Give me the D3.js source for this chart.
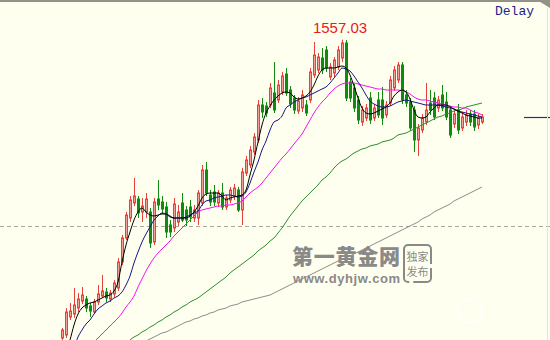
<!DOCTYPE html>
<html>
<head>
<meta charset="utf-8">
<script src="https://cdn.jsdelivr.net/npm/d3@7"></script>
<style>
  html, body { margin: 0; padding: 0; background: #fffff0; }
  svg { display: block; }
</style>
</head>
<body>
<svg id="chart" width="550" height="340"></svg>
<script>
// candle data, one entry per bar
const openP = [1527.2,1527.5,1529.3,1529.6,1530.2,1530.9,1531.1,1530.4,1529.8,1530.8,
  1531.4,1531.8,1531.1,1531.6,1532.2,1534.8,1537.2,1539.2,1540.7,1541.1,
  1539.8,1539.8,1539.8,1536.8,1541.1,1540.8,1540.3,1538.5,1538.2,1538.8,
  1540.7,1540.0,1540.3,1539.2,1539.2,1540.7,1544.0,1541.5,1541.8,1540.7,
  1541.7,1540.3,1541.0,1541.4,1542.0,1540.0,1543.7,1544.5,1545.8,1547.0,
  1550.5,1550.4,1550.5,1551.7,1551.0,1551.8,1553.6,1552.0,1551.2,1549.9,
  1550.2,1550.5,1551.0,1553.5,1554.0,1555.2,1556.0,1553.3,1553.7,1554.3,
  1555.2,1556.7,1552.8,1552.2,1551.0,1548.8,1549.2,1551.2,1549.2,1551.0,
  1551.0,1549.5,1550.7,1552.2,1553.0,1554.5,1551.5,1550.8,1550.0,1547.0,
  1548.0,1548.8,1550.7,1551.2,1550.2,1551.5,1550.8,1550.0,1548.6,1550.0,
  1548.2,1548.8,1549.6,1549.6,1548.5,1548.8];
const highP = [1528.2,1530.2,1530.7,1532.2,1531.7,1532.3,1531.4,1530.7,1531.1,1532.5,
  1533.5,1532.2,1532.0,1533.0,1535.2,1537.5,1539.8,1541.4,1543.2,1541.4,
  1541.2,1541.7,1540.2,1541.2,1543.0,1541.4,1540.8,1539.0,1541.2,1540.5,
  1541.7,1540.4,1541.0,1540.5,1542.0,1544.5,1544.8,1542.0,1542.5,1542.0,
  1542.7,1541.5,1542.3,1542.6,1542.3,1544.2,1545.4,1546.4,1547.7,1551.0,
  1551.2,1550.8,1552.7,1554.8,1553.0,1553.8,1554.2,1552.4,1551.5,1551.3,
  1552.0,1551.0,1554.2,1556.8,1555.7,1556.2,1556.4,1554.7,1555.3,1556.4,
  1557.03,1557.0,1553.2,1552.6,1551.4,1550.4,1550.6,1551.8,1550.6,1551.8,
  1552.3,1550.9,1553.4,1554.4,1554.8,1554.8,1552.0,1551.2,1550.4,1548.6,
  1549.6,1552.7,1552.0,1551.8,1551.4,1552.5,1551.8,1550.4,1550.0,1550.6,
  1549.8,1550.0,1550.0,1550.0,1549.6,1549.6];
const lowP = [1527.0,1527.2,1529.0,1529.2,1529.8,1530.6,1529.8,1529.3,1529.6,1530.5,
  1531.2,1530.8,1530.8,1531.3,1531.9,1534.5,1537.0,1538.8,1540.4,1539.2,
  1538.8,1539.2,1536.2,1536.5,1540.0,1539.6,1537.2,1537.3,1537.8,1538.4,
  1538.8,1538.4,1538.8,1538.8,1538.5,1540.4,1541.4,1540.4,1540.4,1540.3,
  1540.0,1540.0,1540.7,1541.0,1539.8,1538.5,1543.4,1544.2,1545.5,1546.7,
  1549.2,1549.3,1550.2,1549.7,1550.7,1551.5,1551.4,1550.2,1549.6,1549.6,
  1549.8,1549.4,1550.7,1553.2,1553.7,1553.6,1553.8,1553.0,1553.3,1554.0,
  1554.8,1550.9,1550.8,1549.8,1548.6,1548.4,1548.9,1548.6,1548.9,1549.2,
  1548.5,1549.2,1550.4,1551.9,1552.7,1550.6,1550.3,1547.9,1545.8,1545.4,
  1547.7,1548.5,1549.5,1549.0,1549.8,1549.9,1549.0,1547.2,1548.2,1547.6,
  1547.9,1548.4,1548.4,1547.9,1548.1,1548.6];
const closeP = [1528.0,1529.8,1529.9,1530.5,1531.1,1531.5,1530.2,1529.9,1530.8,1531.6,
  1531.9,1531.2,1531.7,1532.7,1534.8,1537.2,1539.5,1541.0,1541.4,1539.7,
  1540.4,1541.1,1536.7,1540.8,1540.5,1540.1,1537.8,1537.8,1540.6,1539.8,
  1539.0,1539.0,1539.3,1540.0,1541.7,1544.0,1541.7,1540.8,1540.8,1541.7,
  1540.3,1541.2,1542.0,1542.2,1540.0,1543.8,1545.0,1546.0,1547.3,1550.5,
  1549.8,1549.7,1552.2,1550.0,1552.5,1553.4,1551.7,1550.6,1550.0,1550.9,
  1551.5,1549.7,1553.8,1555.5,1555.3,1554.0,1554.2,1554.3,1555.0,1556.0,
  1556.7,1551.2,1551.2,1550.2,1549.0,1550.0,1550.2,1549.0,1550.2,1549.5,
  1549.2,1550.5,1553.0,1554.0,1554.5,1551.0,1550.7,1548.2,1547.0,1548.2,
  1549.2,1550.0,1550.0,1549.3,1551.0,1550.2,1549.3,1547.5,1549.6,1548.0,
  1549.3,1549.5,1548.8,1548.3,1549.2,1549.3];

// moving averages
const ma5 = [1524.5,1525.8,1527.0,1528.5,1529.6,1530.2,1530.5,1530.7,1530.8,1531.0,
  1531.2,1531.4,1531.5,1531.9,1532.8,1534.8,1536.5,1537.8,1539.0,1539.8,
  1540.2,1539.8,1539.5,1539.4,1539.5,1539.6,1539.6,1539.4,1539.2,1539.2,
  1539.2,1539.2,1539.4,1539.8,1540.4,1541.2,1541.6,1541.7,1541.7,1541.7,
  1541.4,1541.0,1541.2,1541.3,1541.4,1541.5,1542.0,1543.5,1545.0,1546.8,
  1548.5,1549.7,1550.4,1551.0,1551.4,1551.7,1551.8,1551.7,1551.3,1551.1,
  1551.2,1551.4,1551.8,1552.5,1553.4,1554.0,1554.2,1554.2,1554.2,1554.3,
  1554.4,1554.2,1553.5,1552.4,1551.2,1550.2,1549.7,1549.6,1549.7,1549.9,
  1550.1,1550.3,1550.7,1551.4,1551.8,1552.0,1551.8,1551.1,1550.0,1549.3,
  1549.2,1549.3,1549.8,1550.2,1550.5,1550.5,1550.5,1550.3,1550.1,1549.9,
  1549.7,1549.5,1549.4,1549.3,1549.2,1549.2];
const ma10 = [1522.0,1523.8,1525.2,1526.2,1527.3,1528.0,1528.6,1529.0,1529.6,1530.1,
  1530.4,1530.7,1530.9,1531.2,1531.4,1531.8,1532.5,1533.4,1534.7,1535.8,
  1536.8,1537.6,1538.3,1539.0,1539.4,1539.7,1539.6,1539.3,1539.2,1539.2,
  1539.2,1539.3,1539.5,1539.7,1539.9,1540.5,1540.9,1541.0,1541.2,1541.3,
  1541.4,1541.5,1541.5,1541.4,1541.3,1541.4,1541.8,1542.7,1543.8,1544.8,
  1546.0,1546.9,1548.0,1548.8,1549.0,1549.4,1550.2,1550.5,1550.8,1551.0,
  1551.2,1551.3,1551.5,1551.7,1551.9,1552.1,1552.3,1552.7,1553.2,1553.7,
  1554.2,1554.1,1553.9,1553.4,1552.8,1552.2,1551.5,1550.9,1550.6,1550.4,
  1550.3,1550.3,1550.4,1550.6,1550.8,1550.9,1551.0,1550.9,1550.8,1550.7,
  1550.6,1550.5,1550.5,1550.5,1550.5,1550.4,1550.3,1550.2,1550.1,1549.9,
  1549.8,1549.7,1549.6,1549.5,1549.4,1549.3];
const ma20 = [1523.2,1523.8,1524.4,1524.9,1525.3,1525.7,1526.1,1526.4,1526.8,1527.2,
  1527.6,1528.0,1528.4,1528.8,1529.2,1529.7,1530.3,1530.8,1531.4,1532.3,
  1533.1,1533.9,1534.6,1535.2,1535.7,1536.1,1536.5,1536.9,1537.4,1537.8,
  1538.2,1538.6,1539.0,1539.4,1539.8,1540.0,1540.1,1540.2,1540.3,1540.4,
  1540.4,1540.5,1540.5,1540.6,1540.7,1540.9,1541.3,1541.7,1542.0,1542.3,
  1542.7,1543.2,1543.7,1544.2,1544.7,1545.2,1545.6,1546.1,1546.6,1547.1,
  1547.6,1548.3,1549.0,1549.7,1550.3,1550.8,1551.2,1551.7,1552.1,1552.4,
  1552.6,1552.7,1552.7,1552.7,1552.6,1552.5,1552.4,1552.3,1552.2,1552.1,
  1552.1,1552.0,1552.0,1552.0,1552.0,1551.9,1551.8,1551.6,1551.3,1551.1,
  1551.0,1551.0,1550.9,1550.8,1550.7,1550.6,1550.5,1550.4,1550.3,1550.3,
  1550.2,1550.2,1550.0,1549.8,1549.7,1549.5];
const ma60 = [null,null,null,null,null,null,null,null,null,null,null,null,null,null,
  1525.8,1526.3,1526.6,1527.0,1527.3,1527.5,1527.8,1528.0,1528.3,1528.5,
  1528.8,1529.0,1529.3,1529.5,1529.8,1530.0,1530.3,1530.5,1530.8,1531.0,
  1531.2,1531.5,1531.8,1532.1,1532.4,1532.7,1533.0,1533.3,1533.7,1534.0,
  1534.3,1534.6,1534.9,1535.2,1535.5,1535.9,1536.2,1536.5,1536.9,1537.2,
  1537.7,1538.2,1538.8,1539.4,1539.9,1540.4,1540.9,1541.3,1541.7,1542.1,
  1542.5,1543.0,1543.3,1543.7,1544.2,1544.6,1544.9,1545.1,1545.4,1545.7,
  1545.9,1546.1,1546.2,1546.4,1546.5,1546.6,1546.8,1546.9,1547.0,1547.2,
  1547.5,1547.6,1547.7,1547.9,1548.1,1548.3,1548.5,1548.7,1548.9,1549.1,
  1549.3,1549.4,1549.6,1549.7,1549.9,1550.0,1550.1,1550.3,1550.4,1550.5,
  1550.6,1550.7];
const ma120 = [null,null,null,null,null,null,null,null,null,null,
  null,null,null,null,null,null,null,null,null,null,
  1526.7,1526.9,1527.1,1527.3,1527.5,1527.7,1527.8,1528.0,1528.2,1528.4,
  1528.6,1528.8,1528.9,1529.1,1529.2,1529.4,1529.5,1529.7,1529.8,1530.0,
  1530.1,1530.2,1530.4,1530.5,1530.6,1530.8,1530.9,1531.0,1531.1,1531.2,
  1531.3,1531.4,1531.5,1531.7,1531.9,1532.1,1532.3,1532.5,1532.7,1532.9,
  1533.1,1533.3,1533.5,1533.7,1533.9,1534.1,1534.3,1534.5,1534.7,1534.9,
  1535.1,1535.2,1535.4,1535.6,1535.8,1536.0,1536.2,1536.4,1536.6,1536.8,
  1537.0,1537.2,1537.4,1537.6,1537.8,1538.0,1538.2,1538.4,1538.6,1538.8,
  1539.1,1539.3,1539.5,1539.8,1540.0,1540.2,1540.4,1540.6,1540.9,1541.1,
  1541.3,1541.5,1541.7,1541.9,1542.1,1542.3];

const refLevel = 1538.4;   // dashed reference line

const maSeries = [
  { values: ma120, color: "#8c8c8c" },
  { values: ma60, color: "#2b8f2b" },
  { values: ma20, color: "#f014f0" },
  { values: ma10, color: "#14148c" },
  { values: ma5, color: "#000000" }
];

const svg = d3.select("#chart"),
    width = +svg.attr("width"),
    height = +svg.attr("height");

svg.append("rect").attr("width", width).attr("height", height).attr("fill", "#fffff0");

svg.append("defs").append("clipPath").attr("id", "plot")
    .append("rect").attr("x", 0).attr("y", 2).attr("width", 520).attr("height", height - 2);

const n = closeP.length;
const x = d3.scaleLinear().domain([0, n - 1]).range([62, 482]);
const y = d3.scaleLinear().domain([1527, 1557]).range([340, 40]);

// dashed reference line
svg.append("line")
    .attr("x1", 0).attr("x2", width)
    .attr("y1", Math.round(y(refLevel)) + 0.5).attr("y2", Math.round(y(refLevel)) + 0.5)
    .attr("stroke", "#a8a8a0").attr("stroke-dasharray", "4,3");

// watermark
const wm = svg.append("g").attr("fill", "#808080").attr("opacity", 0.92);
wm.append("text").attr("x", 292).attr("y", 264)
    .attr("font-family", "'Noto Sans CJK SC'").attr("font-weight", 900)
    .attr("font-size", 21).attr("textLength", 108).text("第一黄金网");
wm.append("text").attr("x", 293).attr("y", 283)
    .attr("font-family", "'Liberation Sans', Arial").attr("font-weight", "bold")
    .attr("font-size", 13).attr("textLength", 107).text("www.dyhjw.com");
wm.append("rect").attr("x", 404).attr("y", 245).attr("width", 27).attr("height", 37).attr("rx", 4)
    .attr("fill", "none").attr("stroke", "#808080").attr("stroke-width", 2)
    .attr("stroke-dasharray", "40,4,30,4,60");
wm.append("text").attr("x", 417.5).attr("y", 261).attr("text-anchor", "middle")
    .attr("font-family", "'Noto Sans CJK SC'").attr("font-size", 11).text("独家");
wm.append("text").attr("x", 417.5).attr("y", 276).attr("text-anchor", "middle")
    .attr("font-family", "'Noto Sans CJK SC'").attr("font-size", 11).text("发布");
svg.append("circle").attr("cx", 470).attr("cy", 311).attr("r", 12)
    .attr("fill", "none").attr("stroke", "#ffffff").attr("stroke-width", 2).attr("opacity", 0.8);

const plot = svg.append("g").attr("clip-path", "url(#plot)");

const bars = d3.range(n).map(i => ({
    i, o: openP[i], h: highP[i], l: lowP[i], c: closeP[i], up: closeP[i] >= openP[i]
}));

const candle = plot.selectAll(".candle").data(bars).enter().append("g").attr("class", "candle");

candle.append("line")
    .attr("x1", d => Math.round(x(d.i)) + 0.5).attr("x2", d => Math.round(x(d.i)) + 0.5)
    .attr("y1", d => y(d.h)).attr("y2", d => y(d.l))
    .attr("stroke", d => d.up ? "#e8403a" : "#118a11");

candle.append("rect")
    .attr("x", d => Math.round(x(d.i)) - 0.5)
    .attr("y", d => y(Math.max(d.o, d.c)))
    .attr("width", 2)
    .attr("height", d => Math.max(1, Math.abs(y(d.o) - y(d.c))))
    .attr("fill", d => d.up ? "#f4a09a" : "#118a11")
    .attr("stroke", d => d.up ? "#e8403a" : "#118a11");

const line = d3.line()
    .defined(d => d != null)
    .x((d, i) => x(i))
    .y(d => y(d))
    .curve(d3.curveMonotoneX);

maSeries.forEach(s => {
    plot.append("path").datum(s.values)
        .attr("d", line)
        .attr("fill", "none")
        .attr("stroke", s.color)
        .attr("stroke-width", 1);
});

// high label
const peak = bars.reduce((a, b) => b.h > a.h ? b : a);
svg.append("text")
    .attr("x", x(peak.i) - 2).attr("y", y(peak.h) - 7)
    .attr("text-anchor", "middle")
    .attr("font-family", "'Liberation Sans', Arial").attr("font-size", 15)
    .attr("fill", "#e62020")
    .text(d3.format(".2f")(peak.h));

// last price marker on the right
const lastY = Math.round(y(closeP[n - 1])) + 0.5;
svg.append("line").attr("x1", 524).attr("x2", 550).attr("y1", lastY).attr("y2", lastY)
    .attr("stroke", "#2a2a9a").attr("stroke-width", 1.2);

// frame
svg.append("rect").attr("x", 0).attr("y", 0).attr("width", width).attr("height", 2).attr("fill", "#929288");
svg.append("path").attr("d", "M537,0L550,0L550,8Z").attr("fill", "#929288");
svg.append("line").attr("x1", 547.5).attr("x2", 547.5).attr("y1", 8).attr("y2", height)
    .attr("stroke", "#e4e4da");

svg.append("text")
    .attr("x", 495).attr("y", 15)
    .attr("font-family", "'Liberation Mono', monospace").attr("font-size", 13)
    .attr("fill", "#1c1c8c")
    .text("Delay");
</script>
</body>
</html>
